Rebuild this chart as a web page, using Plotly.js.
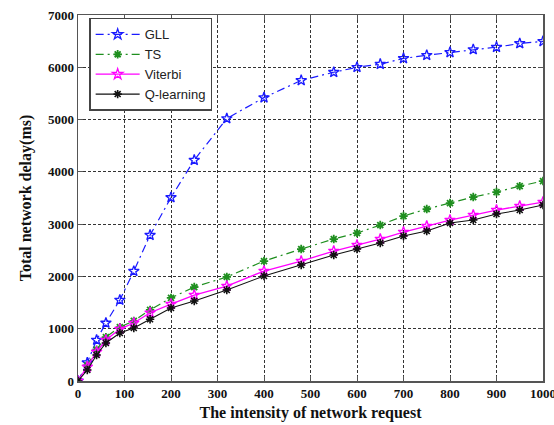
<!DOCTYPE html>
<html>
<head>
<meta charset="utf-8">
<script src="https://cdn.plot.ly/plotly-3.0.1.min.js"></script>
<style>html,body{margin:0;padding:0;background:#fff;}#chart{width:554px;height:425px;}</style>
</head>
<body>
<div id="chart"></div>
<script>
var xValues = [0, 20, 40, 60, 90, 120, 155, 200, 250, 320, 400, 480, 550, 600, 650, 700, 750, 800, 850, 900, 950, 1000];
var gll = [0, 350, 784, 1110, 1549, 2100, 2790, 3510, 4225, 5020, 5420, 5750, 5905, 6000, 6060, 6170, 6230, 6285, 6340, 6385, 6455, 6495];
var ts = [0, 300, 600, 840, 1030, 1150, 1360, 1590, 1797, 1990, 2294, 2524, 2715, 2830, 2983, 3155, 3289, 3403, 3518, 3614, 3728, 3824];
var viterbi = [0, 270, 555, 784, 994, 1109, 1305, 1470, 1644, 1816, 2103, 2294, 2486, 2600, 2715, 2849, 2964, 3078, 3174, 3270, 3346, 3423];
var qlearning = [0, 210, 497, 727, 918, 1013, 1180, 1396, 1530, 1740, 2008, 2218, 2409, 2524, 2639, 2772, 2868, 3021, 3078, 3193, 3270, 3365];
var seriesNames = ["GLL", "TS", "Viterbi", "Q-learning"];
var xTicks = [0, 100, 200, 300, 400, 500, 600, 700, 800, 900, 1000];
var yTicks = [0, 1000, 2000, 3000, 4000, 5000, 6000, 7000];

var traces = [
  {x: xValues, y: gll, name: seriesNames[0], mode: "lines+markers",
   line: {color: "#1a1aff", width: 1.2, dash: "8px,4px,2px,4px"},
   marker: {symbol: "star-open", size: 8, color: "#1a1aff", line: {width: 1.3}}},
  {x: xValues, y: ts, name: seriesNames[1], mode: "lines+markers",
   line: {color: "#1f8f1f", width: 1.2, dash: "8px,4px,2px,4px"},
   marker: {symbol: "asterisk-open", size: 7, color: "#1f8f1f", line: {width: 1.8, color: "#1f8f1f"}}},
  {x: xValues, y: viterbi, name: seriesNames[2], mode: "lines+markers",
   line: {color: "#ff00ff", width: 1.3},
   marker: {symbol: "star-open", size: 8, color: "#ff00ff", line: {width: 1.3}}},
  {x: xValues, y: qlearning, name: seriesNames[3], mode: "lines+markers",
   line: {color: "#111111", width: 1.1},
   marker: {symbol: "asterisk-open", size: 7, color: "#111111", line: {width: 1.6, color: "#111111"}}}
];

var axisCommon = {
  showline: true, mirror: "ticks", linecolor: "#555", linewidth: 1.5,
  ticks: "inside", ticklen: 5, tickcolor: "#555", tickwidth: 1,
  showgrid: true, gridcolor: "#333", gridwidth: 1, griddash: "3px,2px",
  zeroline: false, ticklabeloverflow: "allow",
  tickfont: {family: "Liberation Serif", size: 13, color: "#111", weight: "bold"}
};

var layout = {
  width: 554, height: 425,
  margin: {l: 78, r: 11, t: 15, b: 44},
  paper_bgcolor: "#fff", plot_bgcolor: "#fff",
  showlegend: true,
  legend: {x: 0.024, y: 0.992, xanchor: "left", yanchor: "top",
           bgcolor: "#fff", bordercolor: "#444", borderwidth: 1.5,
           font: {family: "Liberation Sans", size: 13, color: "#222"},
           tracegroupgap: 0, itemwidth: 44},
  xaxis: Object.assign({}, axisCommon, {
    range: [0, 1000], tickvals: xTicks, ticktext: xTicks.map(String),
    automargin: false,
    title: {text: "The intensity of network request", standoff: 6,
            font: {family: "Liberation Serif", size: 16, color: "#111", weight: "bold"}}
  }),
  yaxis: Object.assign({}, axisCommon, {
    range: [0, 7000], tickvals: yTicks, ticktext: yTicks.map(String),
    automargin: false,
    title: {text: "Total network delay(ms)", standoff: 12,
            font: {family: "Liberation Serif", size: 16, color: "#111", weight: "bold"}}
  })
};

Plotly.newPlot("chart", traces, layout, {displayModeBar: false, staticPlot: true});
</script>
</body>
</html>
